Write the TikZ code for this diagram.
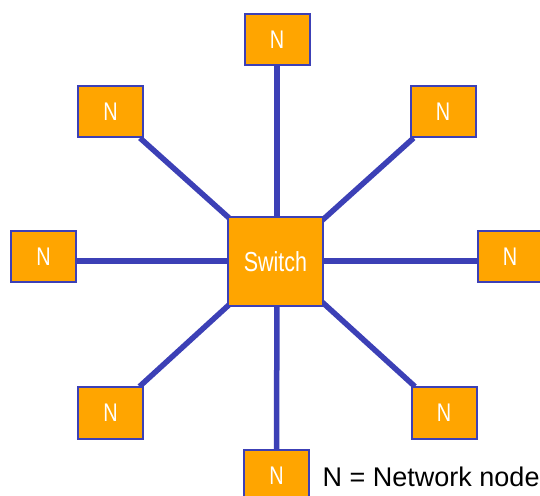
\documentclass[tikz,border=0pt]{standalone}
\usepackage{fontspec}
\setmainfont{Liberation Sans}
\pgfdeclarelayer{background}
\pgfsetlayers{background,main}
\definecolor{linkblue}{RGB}{60,64,182}
\definecolor{boxorange}{RGB}{255,165,0}
\newcommand{\narrow}[1]{\scalebox{0.78}[1]{#1}}
\begin{document}
\begin{tikzpicture}[x=1pt,y=1pt,
  link/.style={line width=5.5pt, draw=linkblue},
  netnode/.style={rectangle, draw=linkblue, line width=2pt, fill=boxorange,
    minimum width=65pt, minimum height=51pt, inner sep=0pt,
    text=white, font=\fontsize{25.5}{25.5}\selectfont},
  switchbox/.style={netnode, minimum width=95pt, minimum height=89pt,
    font=\fontsize{27.5}{27.5}\selectfont}]
\useasboundingbox (0,0) rectangle (540,495);

% central switch
\node[switchbox] (sw) at (275.5,233.5) {\narrow{Switch}};
\coordinate (hub) at (277,234);

% network nodes around the switch
\node[netnode] (t)  at (277,455.5)   {\narrow{N}};
\node[netnode] (tl) at (110.5,383.5) {\narrow{N}};
\node[netnode] (tr) at (443,383.5)   {\narrow{N}};
\node[netnode] (l)  at (43.5,238)    {\narrow{N}};
\node[netnode] (r)  at (510,238)     {\narrow{N}};
\node[netnode] (bl) at (110.5,82)    {\narrow{N}};
\node[netnode] (br) at (444,82)      {\narrow{N}};
\node[netnode] (b)  at (276.5,19.5)  {\narrow{N}};

% links, drawn beneath the boxes
\begin{pgfonlayer}{background}
\draw[link] (hub) -- (t);
\draw[link] (hub) -- (b);
\draw[link] (hub) -- (hub -| l);
\draw[link] (hub) -- (hub -| r);
\draw[link] (hub) -- (tl);
\draw[link] (hub) -- (tr);
\draw[link] (hub) -- (bl);
\draw[link] (hub) -- (br);
\end{pgfonlayer}

% legend
\node[anchor=base west, inner sep=0pt, font=\fontsize{27}{27}\selectfont] (legend)
  at (322.5,9) {N = Network node};
\end{tikzpicture}
\end{document}
